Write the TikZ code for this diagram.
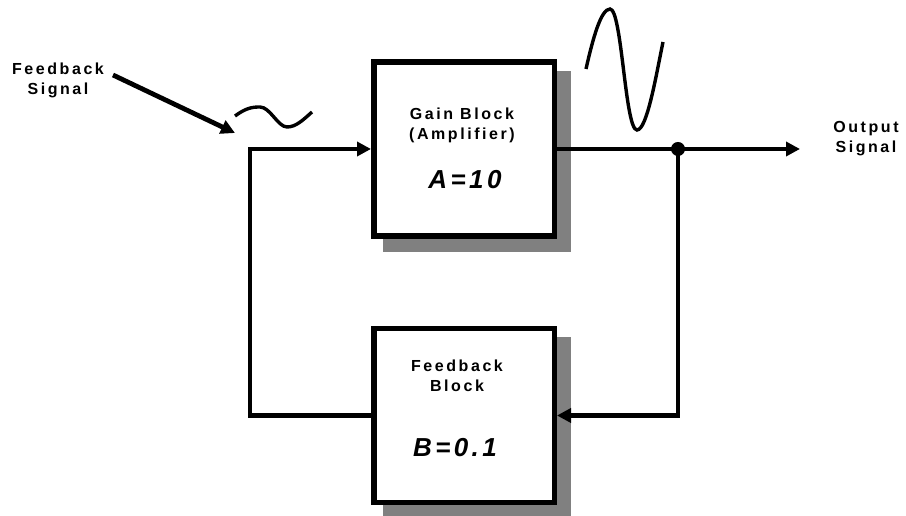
\documentclass[tikz,border=0pt]{standalone}
\usepackage{fontspec}
\newfontfamily\lab{Liberation Sans}[LetterSpace=16]
\newfontfamily\labbig{Liberation Sans}[LetterSpace=13]
\usetikzlibrary{arrows.meta,calc}
\definecolor{shadowgray}{HTML}{808080}
\begin{document}
\begin{tikzpicture}[x=1pt,y=1pt,
  block/.style={draw=black,line width=5.5pt,fill=white,minimum width=180.5pt,minimum height=174pt,inner sep=0pt},
  small/.style={font=\lab\bfseries\fontsize{16}{20}\selectfont,align=center,inner sep=0pt},
  big/.style={font=\labbig\bfseries\itshape\fontsize{26}{30}\selectfont,inner sep=0pt},
  loopline/.style={line width=4.8pt},
  thinline/.style={line width=3.6pt},
  tip/.style={-{Triangle[length=14pt,width=14pt]}},
  wave/.style={line width=3.4pt}
]
\useasboundingbox (0,0) rectangle (906,516);
% shadows
\coordinate (gsw) at (383,264);
\coordinate (gne) at (571,445);
\coordinate (fsw) at (383,-5);
\coordinate (fne) at (571,179);
\fill[shadowgray] (gsw) rectangle (gne);
\fill[shadowgray] (fsw) rectangle (fne);
% blocks
\node[block] (gain) at (464,367) {};
\node[block] (fb) at (464,100.5) {};
% texts in blocks
\node[small] (gt1) at (462,402) {Gain Block};
\node[small] (gt2) at (462,381) {(Amplifier)};
\node[big] (gt3) at (465,336) {A=10};
\node[small] (ft1) at (457,150) {Feedback};
\node[small] (ft2) at (457,130) {Block};
\node[big] (ft3) at (455,68) {B=0.1};
% outside labels
\node[small] (fbl) at (58,436) {Feedback\\Signal};
\node[small] (outl) at (866,377) {Output\\Signal};
% connectors
\coordinate (inl) at (250,367);
\node[circle,fill=black,minimum size=14pt,inner sep=0pt] (dot) at (678,367) {};
\draw[loopline,tip] (fb.west) -| (inl) -- (gain.west);
\draw[thinline] (gain.east) -- (dot.center);
\coordinate (outend) at (800,367);
\draw[loopline,tip] (dot.center) -- (outend);
\draw[loopline,tip] (dot.center) |- (fb.east);
\coordinate (fbs) at (113,441);
\coordinate (fbe) at (235,383);
\draw[loopline,tip] (fbs) -- (fbe);
% waves
\draw[wave] (235,400) .. controls (246,408) and (252,409) .. (260,409)
  .. controls (270,409) and (278,389) .. (287,389)
  .. controls (296,389) and (303,396) .. (312,404);
\draw[wave] (586,447) .. controls (593,478) and (601,507) .. (610,507)
  .. controls (622,507) and (625,386) .. (637,386)
  .. controls (647,386) and (656,440) .. (663,474);
\end{tikzpicture}
\end{document}
